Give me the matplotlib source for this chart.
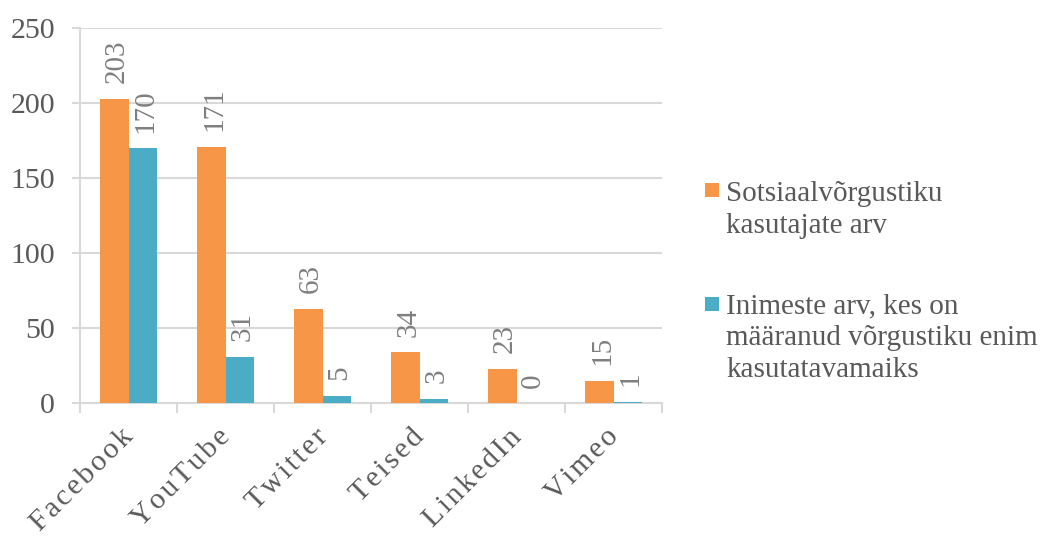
import matplotlib
matplotlib.use("Agg")
import matplotlib.pyplot as plt
import numpy as np
from matplotlib.patches import Rectangle
from matplotlib.transforms import offset_copy

categories = ["Facebook", "YouTube", "Twitter", "Teised", "LinkedIn", "Vimeo"]
users = [203, 171, 63, 34, 23, 15]
most_used = [170, 31, 5, 3, 0, 1]
series_lines = [["Sotsiaalvõrgustiku", "kasutajate arv"],
                ["Inimeste arv, kes on", "määranud võrgustiku enim", "kasutatavamaiks"]]
yticks = [0, 50, 100, 150, 200, 250]

plt.rcParams['font.family'] = ['Liberation Serif', 'DejaVu Serif']

orange = "#F79646"
teal = "#4BACC6"
grid_c = "#D9D9D9"
text_c = "#595959"
label_c = "#7F7F7F"

W, H = 1043, 536
fig = plt.figure(figsize=(W/100, H/100), dpi=100)
ax = fig.add_axes([80/W, 1-403/H, (662-80)/W, (403-28)/H])

x = np.arange(len(categories))
w = 0.29
b1 = ax.bar(x - w/2, users, w, color=orange, zorder=3)
b2 = ax.bar(x + w/2, most_used, w, color=teal, zorder=3)

for bars, vals in ((b1, users), (b2, most_used)):
    for r, v in zip(bars, vals):
        ax.annotate(str(v), (r.get_x() + r.get_width()/2, r.get_height()),
                    xytext=(2, 11), textcoords="offset points",
                    rotation=90, ha="center", va="bottom",
                    fontsize=21, color=label_c)

ax.set_xlim(-0.5, len(categories) - 0.5)
ax.set_ylim(0, 250)
ax.set_yticks(yticks)
ax.yaxis.grid(True, color=grid_c, linewidth=1.5, zorder=0)
ax.tick_params(axis="y", length=6, width=1.5, color=grid_c, labelsize=21.5,
               labelcolor=text_c, pad=12)
for s in ["top", "right"]:
    ax.spines[s].set_visible(False)
for s in ["left", "bottom"]:
    ax.spines[s].set_color(grid_c)
    ax.spines[s].set_linewidth(1.5)

ax.set_xticks(np.arange(len(categories) + 1) - 0.5)
ax.set_xticklabels([])
ax.tick_params(axis="x", length=7, width=1.5, color=grid_c)

tr = offset_copy(ax.transData, fig=fig, x=1, y=-30, units="dots")
for xi, c in zip(x, categories):
    ax.text(xi, 0, "\u200a".join(c), transform=tr, rotation=45,
            rotation_mode="anchor", ha="right", va="center",
            fontsize=21.5, color=text_c, clip_on=False)

# legend (drawn manually so that the marker lines up with the first line)
legend_colors = [orange, teal]
marker_tops = [183, 297]
baselines = [[201, 233], [313, 345, 377]]
for col, mt, lines, bls in zip(legend_colors, marker_tops, series_lines, baselines):
    fig.patches.append(Rectangle((705/W, 1-(mt+14)/H), 14/W, 14/H,
                                 transform=fig.transFigure, facecolor=col,
                                 edgecolor="none"))
    for line, bl in zip(lines, bls):
        fig.text(726/W, 1-bl/H, line, ha="left", va="baseline",
                 fontsize=21, color=text_c)

fig.savefig("out.png", dpi=100)
